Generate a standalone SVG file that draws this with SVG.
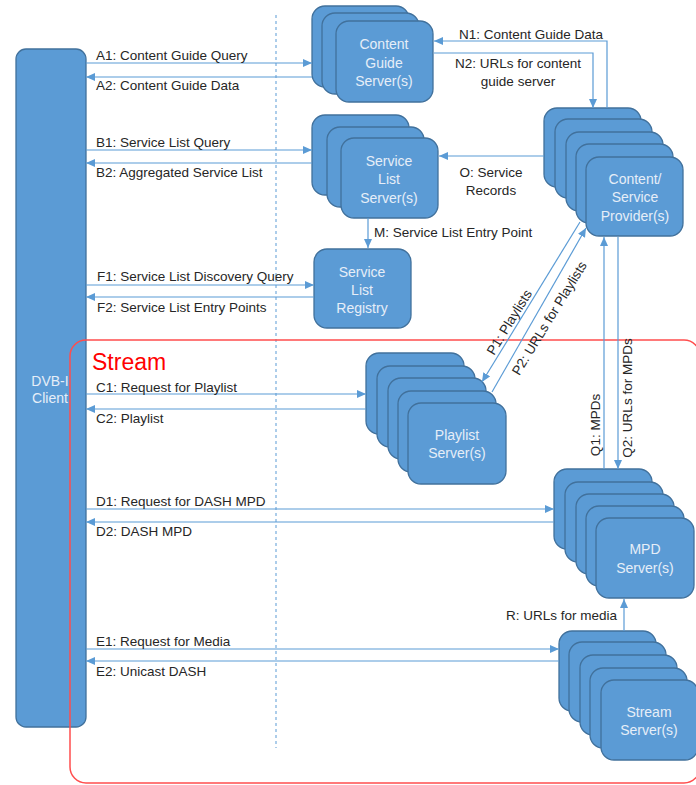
<svg xmlns="http://www.w3.org/2000/svg" width="696" height="785" viewBox="0 0 696 785">
<defs>
<marker id="ah" markerUnits="userSpaceOnUse" markerWidth="10" markerHeight="9" refX="9" refY="4" orient="auto">
<path d="M0,0 L9,4 L0,8 z" fill="#5b9bd5"/>
</marker>
<style>
.box{fill:#5b9bd5;stroke:#41719c;stroke-width:1.3}
.nt{font-family:"Liberation Sans",Arial,sans-serif;font-size:14px;fill:#e6eef8;text-anchor:middle}
.lb{font-family:"Liberation Sans",Arial,sans-serif;font-size:13.5px;fill:#262626}
.c{fill:none;stroke:#5b9bd5;stroke-width:1.2;marker-end:url(#ah)}
</style>
</defs>
<rect width="696" height="785" fill="#ffffff"/>
<line x1="276" y1="15" x2="276" y2="748" stroke="#5b9bd5" stroke-width="1" stroke-dasharray="3,3"/>
<g id="client">
<rect class="box" x="16" y="49" width="70" height="678" rx="10"/>
<text class="nt" x="50" y="386">DVB-I</text>
<text class="nt" x="50" y="403">Client</text>
</g>
<g id="stream-group">
<rect x="70" y="340" width="630" height="443" rx="16" fill="none" stroke="#ff4d4d" stroke-width="1.5"/>
<text x="92" y="370" font-family="'Liberation Sans',Arial,sans-serif" font-size="23" fill="#ff0000">Stream</text>
</g>
<g id="content-guide">
<rect class="box" x="312" y="6" width="97" height="81" rx="13"/>
<rect class="box" x="322" y="13" width="97" height="81" rx="13"/>
<rect class="box" x="336" y="21" width="97" height="81" rx="13"/>
<text class="nt" x="384" y="49">Content</text>
<text class="nt" x="384" y="68">Guide</text>
<text class="nt" x="384" y="86">Server(s)</text>
</g>
<g id="service-list">
<rect class="box" x="312" y="115" width="97" height="80" rx="13"/>
<rect class="box" x="327" y="127" width="97" height="80" rx="13"/>
<rect class="box" x="341" y="138" width="97" height="80" rx="13"/>
<text class="nt" x="389" y="166">Service</text>
<text class="nt" x="389" y="184">List</text>
<text class="nt" x="389" y="203">Server(s)</text>
</g>
<g id="provider">
<rect class="box" x="544" y="108" width="97" height="79" rx="13"/>
<rect class="box" x="555" y="119" width="97" height="79" rx="13"/>
<rect class="box" x="566" y="132" width="97" height="79" rx="13"/>
<rect class="box" x="576" y="144" width="97" height="79" rx="13"/>
<rect class="box" x="586" y="157" width="97" height="79" rx="13"/>
<text class="nt" x="635" y="184">Content/</text>
<text class="nt" x="635" y="202">Service</text>
<text class="nt" x="635" y="221">Provider(s)</text>
</g>
<g id="registry">
<rect class="box" x="314" y="249" width="97" height="79" rx="13"/>
<text class="nt" x="362" y="277">Service</text>
<text class="nt" x="362" y="295">List</text>
<text class="nt" x="362" y="313">Registry</text>
</g>
<g id="playlist">
<rect class="box" x="366" y="353" width="98" height="81" rx="13"/>
<rect class="box" x="377" y="366" width="98" height="81" rx="13"/>
<rect class="box" x="388" y="378" width="98" height="81" rx="13"/>
<rect class="box" x="398" y="391" width="98" height="81" rx="13"/>
<rect class="box" x="408" y="403" width="98" height="81" rx="13"/>
<text class="nt" x="457" y="440">Playlist</text>
<text class="nt" x="457" y="458">Server(s)</text>
</g>
<g id="mpd">
<rect class="box" x="554" y="469" width="98" height="80" rx="13"/>
<rect class="box" x="565" y="482" width="98" height="80" rx="13"/>
<rect class="box" x="576" y="494" width="98" height="80" rx="13"/>
<rect class="box" x="586" y="506" width="98" height="80" rx="13"/>
<rect class="box" x="596" y="518" width="98" height="80" rx="13"/>
<text class="nt" x="645" y="554">MPD</text>
<text class="nt" x="645" y="573">Server(s)</text>
</g>
<g id="stream-server">
<rect class="box" x="559" y="631" width="97" height="80" rx="13"/>
<rect class="box" x="569" y="642" width="97" height="80" rx="13"/>
<rect class="box" x="580" y="655" width="97" height="80" rx="13"/>
<rect class="box" x="590" y="668" width="97" height="80" rx="13"/>
<rect class="box" x="601" y="680" width="97" height="80" rx="13"/>
<text class="nt" x="649" y="717">Stream</text>
<text class="nt" x="649" y="735">Server(s)</text>
</g>
<g id="connectors">
<path class="c" d="M86,63 H312"/>
<path class="c" d="M312,77 H86"/>
<path class="c" d="M86,150 H312"/>
<path class="c" d="M312,163 H86"/>
<path class="c" d="M86,285 H314"/>
<path class="c" d="M314,297 H86"/>
<path class="c" d="M86,394 H366"/>
<path class="c" d="M366,409 H86"/>
<path class="c" d="M86,509 H554"/>
<path class="c" d="M554,522 H86"/>
<path class="c" d="M86,649 H559"/>
<path class="c" d="M559,661 H86"/>
<path class="c" d="M607,108 V41 H434"/>
<path class="c" d="M434,53 H593 V108"/>
<path class="c" d="M544,156 H439"/>
<path class="c" d="M368,218 V248"/>
<path class="c" d="M580,222 L482,382"/>
<path class="c" d="M492,392 L586,228"/>
<path class="c" d="M604,469 V237"/>
<path class="c" d="M618,237 V469"/>
<path class="c" d="M624,631 V599"/>
</g>
<g id="labels">
<text class="lb" x="96" y="60">A1: Content Guide Query</text>
<text class="lb" x="96" y="90">A2: Content Guide Data</text>
<text class="lb" x="96" y="147">B1: Service List Query</text>
<text class="lb" x="96" y="177">B2: Aggregated Service List</text>
<text class="lb" x="97" y="281">F1: Service List Discovery Query</text>
<text class="lb" x="97" y="312">F2: Service List Entry Points</text>
<text class="lb" x="96" y="392">C1: Request for Playlist</text>
<text class="lb" x="96" y="423">C2: Playlist</text>
<text class="lb" x="96" y="506">D1: Request for DASH MPD</text>
<text class="lb" x="96" y="536">D2: DASH MPD</text>
<text class="lb" x="96" y="646">E1: Request for Media</text>
<text class="lb" x="96" y="676">E2: Unicast DASH</text>
<text class="lb" x="459" y="39">N1: Content Guide Data</text>
<text class="lb" x="518" y="68" text-anchor="middle">N2: URLs for content</text>
<text class="lb" x="518" y="86" text-anchor="middle">guide server</text>
<text class="lb" x="491" y="177" text-anchor="middle">O: Service</text>
<text class="lb" x="491" y="195" text-anchor="middle">Records</text>
<text class="lb" x="374" y="237">M: Service List Entry Point</text>
<text class="lb" x="617" y="620" text-anchor="end">R: URLs for media</text>
<text class="lb" text-anchor="middle" transform="translate(509,322) rotate(-58.5)" y="5">P1: Playlists</text>
<text class="lb" text-anchor="middle" transform="translate(549,318) rotate(-58.5)" y="5">P2: URLs for Playlists</text>
<text class="lb" text-anchor="middle" transform="translate(595,425) rotate(-90)" y="5">Q1: MPDs</text>
<text class="lb" text-anchor="middle" transform="translate(627,398) rotate(-90)" y="5">Q2: URLs for MPDs</text>
</g>
</svg>
